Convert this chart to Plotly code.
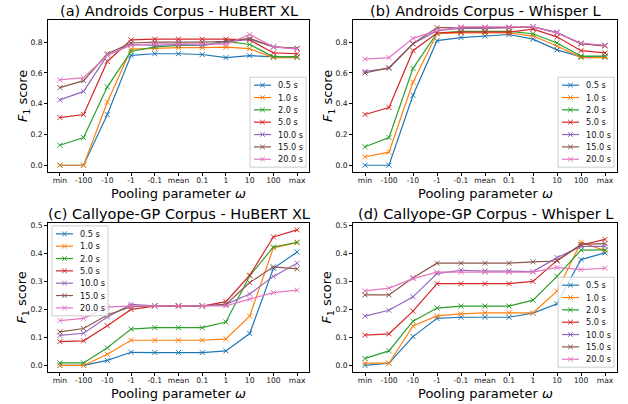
import plotly.graph_objects as go

W, H = 628, 404
FONT = "DejaVu Sans"

categories = ["min", "-100", "-10", "-1", "-0.1", "mean", "0.1", "1", "10", "100", "max"]
durations = ["0.5 s", "1.0 s", "2.0 s", "5.0 s", "10.0 s", "15.0 s", "20.0 s"]
colors = ["#1f77b4", "#ff7f0e", "#2ca02c", "#d62728", "#9467bd", "#8c564b", "#e377c2"]

titles = ["(a) Androids Corpus - HuBERT XL", "(b) Androids Corpus - Whisper L",
          "(c) Callyope-GP Corpus - HuBERT XL", "(d) Callyope-GP Corpus - Whisper L"]

androids_hubert = [
    [0.00, 0.00, 0.33, 0.715, 0.725, 0.725, 0.72, 0.70, 0.713, 0.705, 0.705],
    [0.00, 0.00, 0.41, 0.755, 0.76, 0.765, 0.765, 0.768, 0.758, 0.70, 0.70],
    [0.13, 0.18, 0.51, 0.74, 0.77, 0.78, 0.78, 0.805, 0.785, 0.705, 0.705],
    [0.31, 0.33, 0.675, 0.815, 0.82, 0.82, 0.82, 0.82, 0.815, 0.73, 0.725],
    [0.425, 0.48, 0.715, 0.785, 0.78, 0.785, 0.78, 0.80, 0.82, 0.77, 0.76],
    [0.505, 0.55, 0.725, 0.795, 0.80, 0.80, 0.80, 0.805, 0.825, 0.77, 0.76],
    [0.555, 0.57, 0.715, 0.78, 0.79, 0.79, 0.79, 0.785, 0.85, 0.77, 0.755],
]
androids_whisper = [
    [0.00, 0.00, 0.455, 0.81, 0.83, 0.84, 0.85, 0.82, 0.75, 0.705, 0.705],
    [0.055, 0.085, 0.54, 0.855, 0.86, 0.86, 0.86, 0.84, 0.775, 0.70, 0.70],
    [0.12, 0.18, 0.63, 0.86, 0.87, 0.87, 0.87, 0.855, 0.795, 0.71, 0.71],
    [0.33, 0.375, 0.745, 0.86, 0.865, 0.865, 0.865, 0.885, 0.835, 0.745, 0.73],
    [0.61, 0.63, 0.79, 0.875, 0.89, 0.89, 0.895, 0.90, 0.865, 0.79, 0.78],
    [0.60, 0.635, 0.79, 0.895, 0.895, 0.895, 0.895, 0.90, 0.86, 0.79, 0.775],
    [0.69, 0.70, 0.825, 0.875, 0.90, 0.90, 0.90, 0.90, 0.86, 0.795, 0.78],
]
callyope_hubert = [
    [0.00, 0.00, 0.018, 0.047, 0.046, 0.046, 0.046, 0.052, 0.114, 0.347, 0.405],
    [0.00, 0.00, 0.04, 0.09, 0.09, 0.09, 0.09, 0.095, 0.176, 0.42, 0.438],
    [0.009, 0.009, 0.063, 0.13, 0.135, 0.135, 0.135, 0.155, 0.32, 0.423, 0.44],
    [0.085, 0.088, 0.142, 0.20, 0.212, 0.212, 0.212, 0.228, 0.322, 0.459, 0.484],
    [0.107, 0.115, 0.173, 0.218, 0.213, 0.213, 0.213, 0.218, 0.255, 0.318, 0.365],
    [0.12, 0.132, 0.18, 0.21, 0.213, 0.213, 0.213, 0.218, 0.296, 0.352, 0.345],
    [0.16, 0.168, 0.208, 0.213, 0.213, 0.213, 0.213, 0.213, 0.237, 0.26, 0.269],
]
callyope_whisper = [
    [0.00, 0.008, 0.103, 0.168, 0.172, 0.172, 0.172, 0.187, 0.22, 0.378, 0.402],
    [0.008, 0.008, 0.141, 0.177, 0.184, 0.188, 0.188, 0.188, 0.265, 0.44, 0.41],
    [0.025, 0.052, 0.158, 0.205, 0.212, 0.212, 0.212, 0.233, 0.318, 0.412, 0.413],
    [0.108, 0.113, 0.194, 0.292, 0.292, 0.292, 0.292, 0.30, 0.375, 0.43, 0.45],
    [0.176, 0.197, 0.245, 0.328, 0.34, 0.337, 0.337, 0.335, 0.385, 0.425, 0.425],
    [0.252, 0.252, 0.313, 0.365, 0.365, 0.365, 0.365, 0.37, 0.373, 0.432, 0.435],
    [0.266, 0.276, 0.31, 0.333, 0.333, 0.333, 0.333, 0.333, 0.35, 0.342, 0.347],
]

panels = [androids_hubert, androids_whisper, callyope_hubert, callyope_whisper]
legend_locs = ["lower right", "lower right", "upper left", "lower right"]

# layout geometry in pixels (left, right, top, bottom)
boxes = [(48, 309, 18, 171), (353, 617, 18, 171), (48, 309, 222, 372), (353, 617, 222, 372)]


def px_x(p):
    return p / W


def px_y(p):
    return 1 - p / H


fig = go.Figure()
annotations = []
shapes = []

for i, (series, box) in enumerate(zip(panels, boxes)):
    k = "" if i == 0 else str(i + 1)
    for name, vals, c in zip(durations, series, colors):
        fig.add_trace(go.Scatter(
            x=categories, y=vals, name=name, mode="lines+markers",
            line=dict(color=c, width=1.2),
            marker=dict(symbol="x-thin", size=5, color=c, line=dict(width=1, color=c)),
            xaxis="x" + k, yaxis="y" + k, showlegend=False))
    l, r, t, b = box
    common = dict(showline=True, linecolor="black", linewidth=1, mirror=True,
                  ticks="outside", ticklen=3, tickwidth=1, tickcolor="black",
                  showgrid=False, zeroline=False,
                  tickfont=dict(size=7.6, color="#111", family=FONT))
    xa = dict(common, domain=[px_x(l), px_x(r)], type="category",
              categoryorder="array", categoryarray=categories, range=[-0.5, 10.5],
              anchor="y" + k, ticklabelstandoff=-2)
    if i < 2:
        ya = dict(common, domain=[px_y(b), px_y(t)], range=[-0.045, 0.945],
                  tickvals=[0, 0.2, 0.4, 0.6, 0.8], tickformat=".1f", anchor="x" + k)
    else:
        ya = dict(common, domain=[px_y(b), px_y(t)], range=[-0.024, 0.509],
                  tickvals=[0, 0.1, 0.2, 0.3, 0.4, 0.5], tickformat=".1f", anchor="x" + k)
    fig.update_layout(**{"xaxis" + k: xa, "yaxis" + k: ya})

    # titles
    annotations.append(dict(text=titles[i], x=px_x((l + r) / 2), y=px_y(t - 9),
                            xref="paper", yref="paper", showarrow=False,
                            xanchor="center", yanchor="middle",
                            font=dict(size=14.5, color="black", family=FONT)))
    annotations.append(dict(text="Pooling parameter <i>ω</i>", x=px_x((l + r) / 2), y=px_y(b + 21),
                            xref="paper", yref="paper", showarrow=False,
                            xanchor="center", yanchor="middle",
                            font=dict(size=13, color="black", family=FONT)))
    annotations.append(dict(text="<i>F</i><sub>1</sub> score", x=px_x(l - 25), y=px_y((t + b) / 2),
                            xref="paper", yref="paper", showarrow=False, textangle=-90,
                            xanchor="center", yanchor="middle",
                            font=dict(size=13, color="black", family=FONT)))

    # legend (drawn as a compact matplotlib-style box)
    n = len(durations)
    row = 12.4
    pad = 8
    lw = 56
    lh = 2 * pad + (n - 1) * row
    if legend_locs[i] == "lower right":
        lr = r - 3
        ll = lr - lw
        lb = b - 5
        lt = lb - lh
    else:
        ll = l + 4
        lr = ll + lw
        lt = t + 3
        lb = lt + lh
    shapes.append(dict(type="rect", xref="paper", yref="paper",
                       x0=px_x(ll), x1=px_x(lr), y0=px_y(lb), y1=px_y(lt),
                       line=dict(color="#cccccc", width=1),
                       fillcolor="rgba(255,255,255,0.8)", layer="above"))
    for j, (name, c) in enumerate(zip(durations, colors)):
        yc = lt + pad + j * row
        shapes.append(dict(type="line", xref="paper", yref="paper",
                           x0=px_x(ll + 4), x1=px_x(ll + 21), y0=px_y(yc), y1=px_y(yc),
                           line=dict(color=c, width=1.2), layer="above"))
        mx = ll + 12.5
        s = 2.3
        for dy in (-s, s):
            shapes.append(dict(type="line", xref="paper", yref="paper",
                               x0=px_x(mx - s), x1=px_x(mx + s),
                               y0=px_y(yc - dy), y1=px_y(yc + dy),
                               line=dict(color=c, width=1), layer="above"))
        annotations.append(dict(text=name, x=px_x(ll + 26), y=px_y(yc),
                                xref="paper", yref="paper", showarrow=False,
                                xanchor="left", yanchor="middle",
                                font=dict(size=8.2, color="#111", family=FONT)))

fig.update_layout(width=W, height=H, margin=dict(l=0, r=0, t=0, b=0),
                  paper_bgcolor="white", plot_bgcolor="white",
                  font=dict(family=FONT, color="black"),
                  annotations=annotations, shapes=shapes, showlegend=False)

fig.write_html("out.html", config={"displayModeBar": False},
               post_script="document.body.style.margin='0px';")
